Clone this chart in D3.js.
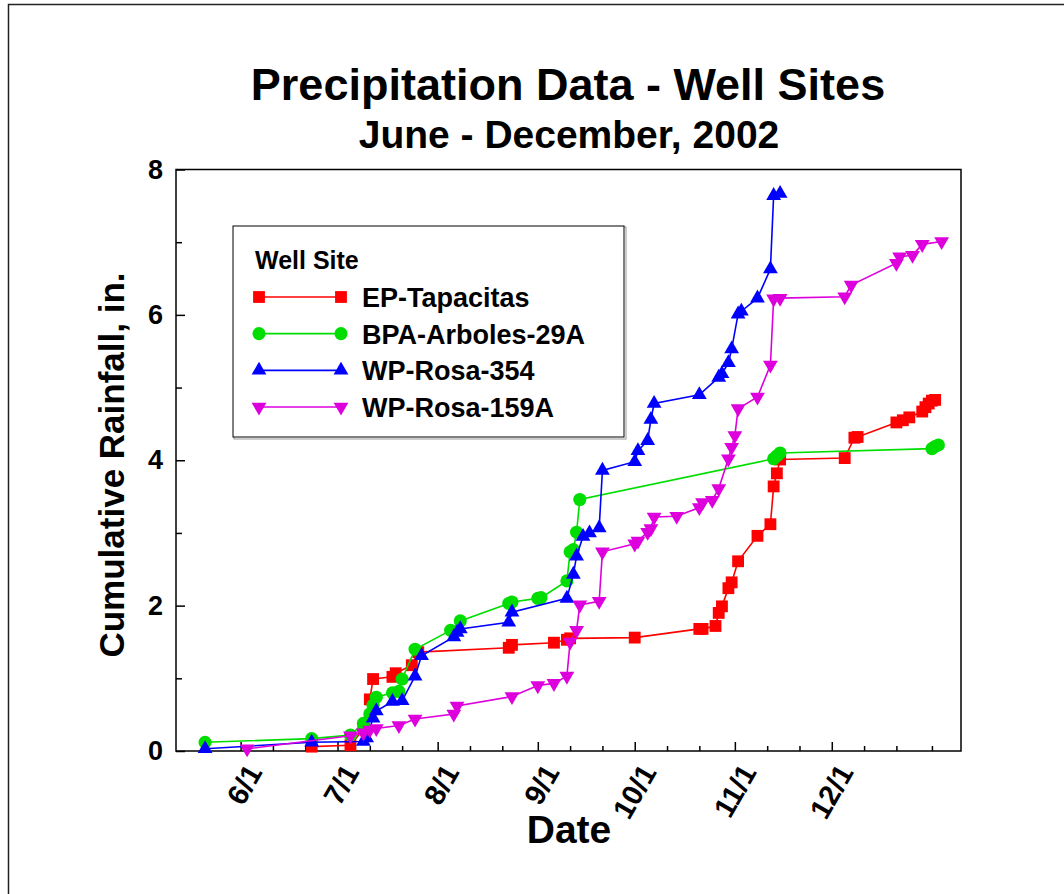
<!DOCTYPE html>
<html>
<head>
<meta charset="utf-8">
<script src="https://cdn.jsdelivr.net/npm/d3@7"></script>
<style>
  body { margin: 0; background: #fff; }
  svg { display: block; }
  text { font-family: "Liberation Sans", Arial, Helvetica, sans-serif; font-weight: bold; fill: #000; }
</style>
</head>
<body>
<svg id="chart"></svg>
<script>
// cumulative rainfall, inches, by reading date
const epTapacitas = [
  ["2002-06-23", 0.06], ["2002-07-05", 0.08], ["2002-07-09", 0.30], ["2002-07-11", 0.71],
  ["2002-07-12", 0.99], ["2002-07-18", 1.02], ["2002-07-19", 1.07], ["2002-07-24", 1.18],
  ["2002-07-26", 1.36], ["2002-08-23", 1.42], ["2002-08-24", 1.46], ["2002-09-06", 1.49],
  ["2002-09-10", 1.53], ["2002-09-11", 1.55], ["2002-10-01", 1.56], ["2002-10-21", 1.68],
  ["2002-10-22", 1.68], ["2002-10-26", 1.72], ["2002-10-27", 1.90], ["2002-10-28", 1.99],
  ["2002-10-30", 2.24], ["2002-10-31", 2.32], ["2002-11-02", 2.61], ["2002-11-08", 2.96],
  ["2002-11-12", 3.12], ["2002-11-13", 3.64], ["2002-11-14", 3.82], ["2002-11-15", 4.01],
  ["2002-12-05", 4.03], ["2002-12-08", 4.31], ["2002-12-09", 4.32], ["2002-12-21", 4.52],
  ["2002-12-23", 4.55], ["2002-12-25", 4.59], ["2002-12-29", 4.67], ["2002-12-30", 4.73],
  ["2002-12-31", 4.78], ["2003-01-01", 4.82], ["2003-01-02", 4.83]
];
const bpaArboles = [
  ["2002-05-21", 0.12], ["2002-06-23", 0.17], ["2002-07-05", 0.22], ["2002-07-09", 0.38],
  ["2002-07-11", 0.51], ["2002-07-12", 0.63], ["2002-07-13", 0.74], ["2002-07-18", 0.80],
  ["2002-07-20", 0.82], ["2002-07-21", 0.99], ["2002-07-25", 1.40], ["2002-08-05", 1.66],
  ["2002-08-08", 1.79], ["2002-08-23", 2.03], ["2002-08-24", 2.05], ["2002-09-01", 2.10],
  ["2002-09-02", 2.11], ["2002-09-10", 2.34], ["2002-09-11", 2.74], ["2002-09-12", 2.77],
  ["2002-09-13", 3.01], ["2002-09-14", 3.46], ["2002-11-13", 4.02], ["2002-11-14", 4.06],
  ["2002-11-15", 4.10], ["2003-01-01", 4.16], ["2003-01-02", 4.19], ["2003-01-03", 4.21]
];
const wpRosa354 = [
  ["2002-05-21", 0.03], ["2002-06-23", 0.12], ["2002-07-09", 0.13], ["2002-07-10", 0.18],
  ["2002-07-12", 0.45], ["2002-07-13", 0.55], ["2002-07-18", 0.68], ["2002-07-21", 0.69],
  ["2002-07-25", 1.03], ["2002-07-27", 1.31], ["2002-08-06", 1.57], ["2002-08-07", 1.63],
  ["2002-08-08", 1.68], ["2002-08-23", 1.77], ["2002-08-24", 1.91], ["2002-09-10", 2.10],
  ["2002-09-12", 2.43], ["2002-09-13", 2.68], ["2002-09-15", 2.95], ["2002-09-17", 3.00],
  ["2002-09-20", 3.07], ["2002-09-21", 3.86], ["2002-10-01", 3.98], ["2002-10-02", 4.13],
  ["2002-10-05", 4.27], ["2002-10-06", 4.56], ["2002-10-07", 4.78], ["2002-10-21", 4.90],
  ["2002-10-27", 5.14], ["2002-10-28", 5.19], ["2002-10-30", 5.34], ["2002-10-31", 5.53],
  ["2002-11-02", 6.01], ["2002-11-03", 6.05], ["2002-11-08", 6.23], ["2002-11-12", 6.63],
  ["2002-11-13", 7.64], ["2002-11-15", 7.67]
];
const wpRosa159A = [
  ["2002-06-03", 0.03], ["2002-07-05", 0.21], ["2002-07-09", 0.25], ["2002-07-11", 0.29],
  ["2002-07-13", 0.31], ["2002-07-20", 0.35], ["2002-07-25", 0.44], ["2002-08-06", 0.51],
  ["2002-08-07", 0.62], ["2002-08-24", 0.75], ["2002-09-01", 0.90], ["2002-09-06", 0.93],
  ["2002-09-10", 1.03], ["2002-09-11", 1.50], ["2002-09-13", 1.66], ["2002-09-14", 2.01],
  ["2002-09-20", 2.06], ["2002-09-21", 2.74], ["2002-10-01", 2.85], ["2002-10-02", 2.89],
  ["2002-10-05", 3.01], ["2002-10-06", 3.06], ["2002-10-07", 3.22], ["2002-10-14", 3.23],
  ["2002-10-21", 3.35], ["2002-10-22", 3.42], ["2002-10-25", 3.45], ["2002-10-27", 3.61],
  ["2002-10-30", 4.02], ["2002-10-31", 4.18], ["2002-11-01", 4.34], ["2002-11-02", 4.71],
  ["2002-11-08", 4.87], ["2002-11-12", 5.31], ["2002-11-13", 6.22], ["2002-11-15", 6.23],
  ["2002-12-05", 6.25], ["2002-12-07", 6.41], ["2002-12-21", 6.71], ["2002-12-22", 6.80],
  ["2002-12-26", 6.82], ["2002-12-29", 6.97], ["2003-01-04", 7.01]
];

const seriesNames = ["EP-Tapacitas", "BPA-Arboles-29A", "WP-Rosa-354", "WP-Rosa-159A"];
const seriesData = [epTapacitas, bpaArboles, wpRosa354, wpRosa159A];
const seriesColors = ["#ff0000", "#00dd00", "#0000ff", "#dd00dd"];

const monthTicks = ["2002-06-01", "2002-07-01", "2002-08-01", "2002-09-01", "2002-10-01", "2002-11-01", "2002-12-01"];
const minorTicks = ["2002-05-21", "2002-06-11", "2002-06-21", "2002-07-11", "2002-07-21", "2002-08-11", "2002-08-21",
  "2002-09-11", "2002-09-21", "2002-10-11", "2002-10-21", "2002-11-11", "2002-11-21", "2002-12-11", "2002-12-21", "2003-01-01"];
const yMajorTicks = [0, 2, 4, 6, 8];
const yMinorTicks = [1, 3, 5, 7];

const width = 1064, height = 894;
const parse = d3.timeParse("%Y-%m-%d");

const svg = d3.select("#chart").attr("width", width).attr("height", height);

// outer frame
svg.append("rect")
   .attr("x", 8.5).attr("y", 4.5)
   .attr("width", 1100).attr("height", 1000)
   .attr("fill", "none").attr("stroke", "#222").attr("stroke-width", 1.5);

const x = d3.scaleTime()
            .domain([parse("2002-05-12"), parse("2003-01-10")])
            .range([176, 961]);
const y = d3.scaleLinear().domain([0, 8]).range([751, 169.5]);

// titles
svg.append("text").attr("x", 568).attr("y", 100).attr("text-anchor", "middle")
   .style("font-size", "45px").text("Precipitation Data - Well Sites");
svg.append("text").attr("x", 569).attr("y", 148).attr("text-anchor", "middle")
   .style("font-size", "39px").text("June - December, 2002");

// axes
const xMajor = d3.axisBottom(x).tickValues(monthTicks.map(parse))
                 .tickSize(-9).tickPadding(0).tickFormat(d3.timeFormat("%-m/%-d"));
const xMinor = d3.axisBottom(x).tickValues(minorTicks.map(parse))
                 .tickSize(-5).tickFormat("");

const gx = svg.append("g").attr("transform", "translate(0,751)").call(xMajor);
svg.append("g").attr("transform", "translate(0,751)").call(xMinor);

gx.selectAll("text")
  .attr("text-anchor", "end")
  .attr("y", 0).attr("dy", 0)
  .attr("transform", "translate(22,21) rotate(-60)")
  .style("font-size", "29px");

const yMajor = d3.axisLeft(y).tickValues(yMajorTicks).tickSize(-9).tickPadding(13);
const yMinor = d3.axisLeft(y).tickValues(yMinorTicks).tickSize(-6).tickFormat("");
const gy = svg.append("g").attr("transform", "translate(176,0)").call(yMajor);
svg.append("g").attr("transform", "translate(176,0)").call(yMinor);
gy.selectAll("text").style("font-size", "27px");

svg.selectAll(".domain").remove();
svg.selectAll(".tick line").attr("stroke", "#000").attr("stroke-width", 1.5);

// plot frame
svg.append("rect")
   .attr("x", 176).attr("y", 169.5)
   .attr("width", 785).attr("height", 581.5)
   .attr("fill", "none").attr("stroke", "#000").attr("stroke-width", 1.5);

svg.append("text").attr("x", 569).attr("y", 843).attr("text-anchor", "middle")
   .style("font-size", "39px").text("Date");
svg.append("text").attr("transform", "translate(124,465) rotate(-90)").attr("text-anchor", "middle")
   .style("font-size", "35px").text("Cumulative Rainfall, in.");

const symbols = [
  d3.symbol().type(d3.symbolSquare).size(140),
  d3.symbol().type(d3.symbolCircle).size(135),
  d3.symbol().type(d3.symbolTriangle).size(95),
  d3.symbol().type(d3.symbolTriangle).size(95)
];
const flip = [false, false, false, true];

const line = d3.line().x(d => x(parse(d[0]))).y(d => y(d[1]));

seriesData.forEach((data, i) => {
  const g = svg.append("g");
  g.append("path").datum(data)
   .attr("d", line).attr("fill", "none")
   .attr("stroke", seriesColors[i]).attr("stroke-width", 1.6);
  g.selectAll("path.mark").data(data).enter().append("path")
   .attr("class", "mark")
   .attr("d", symbols[i])
   .attr("fill", seriesColors[i])
   .attr("transform", d => `translate(${x(parse(d[0]))},${y(d[1])})` + (flip[i] ? " rotate(180)" : ""));
});

// legend
const legend = svg.append("g");
legend.append("rect").attr("x", 234).attr("y", 227).attr("width", 392).attr("height", 212)
      .attr("fill", "none").attr("stroke", "#999").attr("stroke-width", 1);
legend.append("rect").attr("x", 233).attr("y", 226).attr("width", 391).attr("height", 211)
      .attr("fill", "#fff").attr("stroke", "#000").attr("stroke-width", 1);
legend.append("text").attr("x", 255).attr("y", 269).style("font-size", "25px").text("Well Site");

const legendY = d3.scalePoint().domain(seriesNames).range([297, 407]);
seriesNames.forEach((name, i) => {
  const ly = legendY(name);
  legend.append("line").attr("x1", 259).attr("x2", 341).attr("y1", ly).attr("y2", ly)
        .attr("stroke", seriesColors[i]).attr("stroke-width", 1.6);
  [259, 341].forEach(lx => {
    legend.append("path").attr("d", symbols[i]).attr("fill", seriesColors[i])
          .attr("transform", `translate(${lx},${ly})` + (flip[i] ? " rotate(180)" : ""));
  });
  legend.append("text").attr("x", 362).attr("y", ly + 10).style("font-size", "27px").text(name);
});
</script>
</body>
</html>
